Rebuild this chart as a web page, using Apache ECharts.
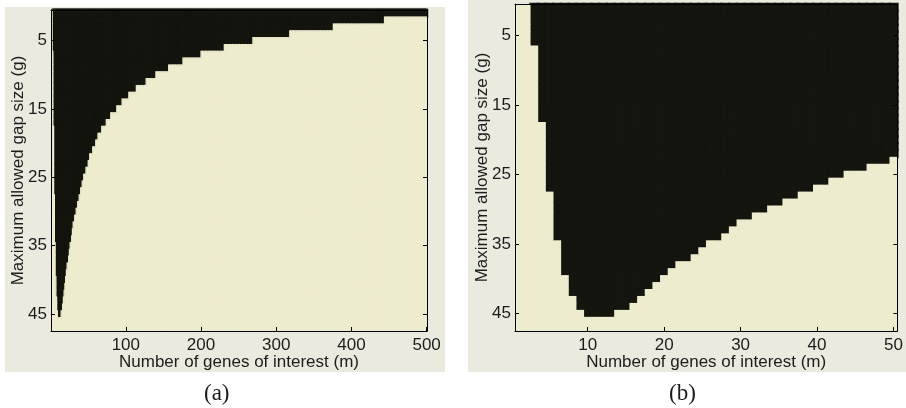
<!DOCTYPE html>
<html>
<head>
<meta charset="utf-8">
<script src="https://cdn.jsdelivr.net/npm/echarts@6/dist/echarts.min.js"></script>
<style>
  html, body { margin: 0; padding: 0; background: #ffffff; }
  #chart { width: 906px; height: 408px; }
</style>
</head>
<body>
<div id="chart"></div>
<script>
// Grid sizes: number of genes of interest (m) and maximum allowed gap size (g)
const wideGeneCount = 500;
const narrowGeneCount = 50;
const gapCount = 47;

// Tick labels
const xTicksWide = [100, 200, 300, 400, 500];
const xTicksNarrow = [10, 20, 30, 40, 50];
const yTicks = [5, 15, 25, 35, 45];

// Largest g that is shaded dark in each column m = 1..50 (0 = no dark cell)
const narrowMaxGap = [0, 0, 6, 17, 27, 34, 39, 42, 44, 45,
                      45, 45, 45, 44, 44, 43, 42, 41, 40, 39,
                      38, 37, 37, 36, 35, 34, 34, 33, 32, 31,
                      31, 30, 30, 29, 29, 28, 28, 27, 27, 26,
                      26, 25, 25, 24, 24, 24, 23, 23, 23, 22];

// Columns m = 51..500 as runs: each run ends at wideRunEnd[k] and has largest dark g wideRunGap[k]
const wideRunEnd = [51, 55, 59, 62, 67, 73, 79, 87, 94, 103, 113,
                    126, 139, 156, 175, 199, 230, 268, 317, 375, 443, 500];
const wideRunGap = [22, 21, 20, 19, 18, 17, 16, 15, 14, 13, 12,
                    11, 10, 9, 8, 7, 6, 5, 4, 3, 2, 1];

const DARK = '#15150f';
const CREAM = '#eeecce';
const PANEL = '#ebeadf';
const TEXT = '#1c1c1c';
const SANS = '"Liberation Sans", Arial, sans-serif';
const SERIF = '"Liberation Serif", "DejaVu Serif", serif';
const FS = 17;

function expandWide() {
  const out = narrowMaxGap.slice();
  let r = 0;
  for (let m = narrowGeneCount + 1; m <= wideGeneCount; m++) {
    while (m > wideRunEnd[r]) r++;
    out.push(wideRunGap[r]);
  }
  return out;
}

// Split the grid into dark cells (g <= largest dark g of the column) and light cells
function buildCells(maxGap, dark) {
  const cells = [];
  for (let i = 0; i < maxGap.length; i++) {
    for (let j = 0; j < gapCount; j++) {
      const isDark = (j + 1) <= maxGap[i];
      if (isDark === dark) cells.push([i, j, isDark ? 1 : 0]);
    }
  }
  return cells;
}

function range(n) {
  const a = [];
  for (let i = 1; i <= n; i++) a.push(String(i));
  return a;
}

const wideMaxGap = expandWide();

const frameLine = { show: true, onZero: false, lineStyle: { color: '#000', width: 1 } };

function bottomAxis(grid, count, ticks) {
  const pick = (i) => ticks.indexOf(i + 1) >= 0;
  return {
    type: 'category', gridIndex: grid, position: 'bottom', data: range(count), z: 10,
    axisLine: frameLine,
    axisTick: { show: true, inside: true, length: 4, alignWithLabel: true, interval: pick,
                lineStyle: { color: '#000', width: 1 } },
    axisLabel: { interval: pick, margin: 6, fontSize: FS, color: TEXT, fontFamily: SANS },
    splitLine: { show: false },
    name: 'Number of genes of interest (m)', nameLocation: 'middle', nameGap: 23,
    nameMoveOverlap: false,
    nameTextStyle: { fontSize: FS, color: TEXT, fontFamily: SANS }
  };
}
function topAxis(grid, count) {
  return {
    type: 'category', gridIndex: grid, position: 'top', data: range(count), z: 10,
    axisLine: frameLine, axisTick: { show: false }, axisLabel: { show: false }, splitLine: { show: false }
  };
}
function leftAxis(grid) {
  const pick = (i) => yTicks.indexOf(i + 1) >= 0;
  return {
    type: 'category', gridIndex: grid, position: 'left', inverse: true, data: range(gapCount), z: 10,
    axisLine: frameLine,
    axisTick: { show: true, inside: true, length: 4, alignWithLabel: true, interval: pick,
                lineStyle: { color: '#000', width: 1 } },
    axisLabel: { interval: pick, margin: 4, fontSize: FS, color: TEXT, fontFamily: SANS },
    splitLine: { show: false },
    name: 'Maximum allowed gap size (g)', nameLocation: 'middle', nameGap: 24,
    nameMoveOverlap: false,
    nameTextStyle: { fontSize: FS, color: TEXT, fontFamily: SANS }
  };
}
function rightAxis(grid) {
  const pick = (i) => yTicks.indexOf(i + 1) >= 0;
  return {
    type: 'category', gridIndex: grid, position: 'right', inverse: true, data: range(gapCount), z: 10,
    axisLine: frameLine,
    axisTick: { show: true, inside: true, length: 4, alignWithLabel: true, interval: pick,
                lineStyle: { color: '#000', width: 1 } },
    axisLabel: { show: false }, splitLine: { show: false }
  };
}

function cellSeries(xi, yi, data, color, edge) {
  return {
    type: 'heatmap', xAxisIndex: xi, yAxisIndex: yi, data: data,
    progressive: 0, progressiveThreshold: 1000000,
    emphasis: { disabled: true },
    itemStyle: { color: color, borderColor: color, borderWidth: edge }
  };
}

const chart = echarts.init(document.getElementById('chart'), null, { renderer: 'canvas' });

// Dark cells are drawn first with a wide outline so they read as one solid block;
// light cells are drawn on top, trimming that outline back to the cell edges.
chart.setOption({
  animation: false,
  backgroundColor: '#ffffff',
  graphic: [
    { type: 'rect', z: -10, shape: { x: 5, y: 7, width: 440, height: 365 }, style: { fill: PANEL } },
    { type: 'rect', z: -10, shape: { x: 468, y: 0, width: 438, height: 372 }, style: { fill: PANEL } },
    { type: 'text', left: 204, top: 382, style: { text: '(a)', fontSize: 23, fill: TEXT, fontFamily: SERIF } },
    { type: 'text', left: 669, top: 382, style: { text: '(b)', fontSize: 23, fill: TEXT, fontFamily: SERIF } }
  ],
  grid: [
    { left: 51, top: 10, width: 376, height: 321, show: true, backgroundColor: CREAM, borderWidth: 0 },
    { left: 515, top: 4, width: 383, height: 327, show: true, backgroundColor: CREAM, borderWidth: 0 }
  ],
  xAxis: [
    bottomAxis(0, wideGeneCount, xTicksWide),
    topAxis(0, wideGeneCount),
    bottomAxis(1, narrowGeneCount, xTicksNarrow),
    topAxis(1, narrowGeneCount)
  ],
  yAxis: [
    leftAxis(0),
    rightAxis(0),
    leftAxis(1),
    rightAxis(1)
  ],
  series: [
    cellSeries(0, 0, buildCells(wideMaxGap, true), DARK, 2),
    cellSeries(0, 0, buildCells(wideMaxGap, false), CREAM, 0),
    cellSeries(2, 2, buildCells(narrowMaxGap, true), DARK, 2),
    cellSeries(2, 2, buildCells(narrowMaxGap, false), CREAM, 0)
  ]
});
</script>
</body>
</html>
